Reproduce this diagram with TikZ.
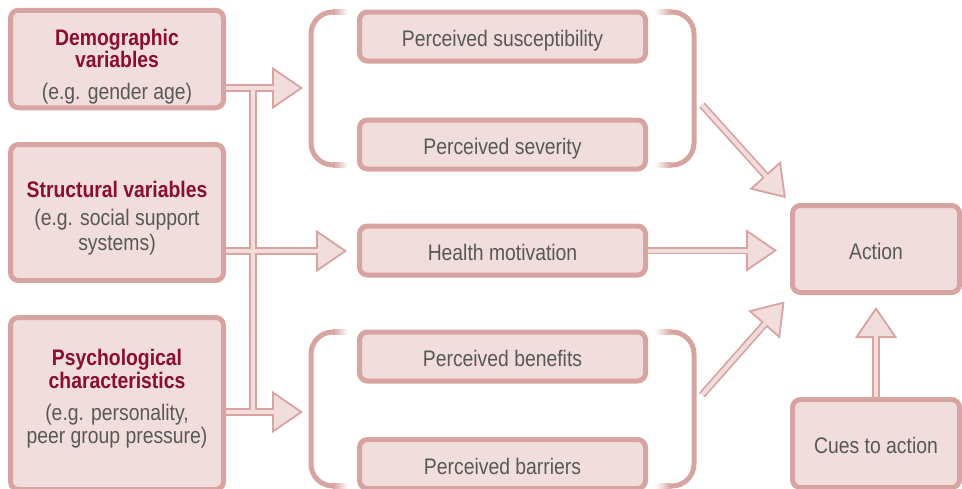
\documentclass[tikz,border=0pt]{standalone}
\usepackage{fontspec}
\setmainfont{Liberation Sans}[FakeStretch=0.86]
\usetikzlibrary{arrows.meta}
\definecolor{edgec}{RGB}{216,164,162}
\definecolor{fillc}{RGB}{241,221,220}
\definecolor{greyc}{RGB}{88,88,88}
\definecolor{redc}{RGB}{139,14,50}
\newcommand{\vname}[1]{\textcolor{redc}{\bfseries #1}}
\begin{document}
\begin{tikzpicture}[x=1pt, y=-1pt,
  font=\fontsize{22.5}{20}\selectfont,
  box/.style={draw=edgec, fill=fillc, line width=5pt, rounded corners=8pt, inner sep=0pt, outer sep=0pt, text=greyc},
  factor/.style={box, minimum width=286pt, minimum height=49pt, text height=20pt, text depth=0pt},
  actbox/.style={box, minimum width=167pt, text height=20pt, text depth=0pt},
  varbox/.style={box, minimum width=213pt},
  vartext/.style={anchor=north, align=center, inner sep=0pt, text=greyc},
  pipe/.style={draw=edgec, line width=7.5pt},
  core/.style={draw=fillc, line width=4pt},
  bigtip/.style={-{Triangle[width=42pt, length=31pt, fill=fillc, line width=1.8pt]}},
  brk/.style={draw=edgec, line width=5pt, rounded corners=22pt}]
\useasboundingbox (0,0) rectangle (962,488);

% brackets round the paired factors
\foreach \y/\z in {12/165, 332/486} {
  \draw[brk] (334,\y) -- (311,\y) -- (311,\z) -- (334,\z);
  \draw[brk] (670,\y) -- (694,\y) -- (694,\z) -- (670,\z);
  \foreach \v in {\y, \z} {
    \shade[left color=edgec, right color=white] (333,\v-2.5) rectangle (348,\v+2.5);
    \shade[left color=white, right color=edgec] (655,\v-2.5) rectangle (671,\v+2.5);
  }
}

\node[varbox, minimum height=97.5pt] (demo) at (117,59) {};
\node[varbox, minimum height=136pt] (struct) at (117,212.5) {};
\node[varbox, minimum height=172pt] (psych) at (117,403.5) {};
\node[vartext] (demotxt) at (117,29) {\vname{Demographic}\\\vname{variables}\\[12pt](e.g. gender age)};
\node[vartext] (structtxt) at (117,181) {\vname{Structural variables}\\[8pt](e.g. social support\\[3pt]systems)};
\node[vartext] (psychtxt) at (117,349) {\vname{Psychological}\\[1pt]\vname{characteristics}\\[12pt](e.g. personality,\\[1pt]peer group pressure)};

\foreach \n/\y/\t in {suscep/36.5/Perceived susceptibility, sever/144.5/Perceived severity,
    motiv/250.5/Health motivation, benef/356.5/Perceived benefits, barr/464/Perceived barriers}
  \node[factor] (\n) at (502.5,\y) {\t};

\node[actbox, minimum height=87pt] (action) at (876,249) {Action};
\node[actbox, minimum height=88pt] (cues) at (876,443.5) {Cues to action};

\coordinate (jtop) at (253,88);
\coordinate (jmid) at (253,251);
\coordinate (jbot) at (253,412);
\coordinate (brkin1) at (303,88);
\coordinate (brkin2) at (303,412);
\coordinate (brkout1) at (702,105);
\coordinate (brkout2) at (702,395);

% outlines first, then the pale cores
\draw[pipe] (jtop) -- (jbot);
\foreach \a/\b/\s/\e in {demo.east |- jtop/brkin1/2.5/0, struct.east |- jmid/jmid -| motiv.west/2.5/12.5,
    psych.east |- jbot/brkin2/2.5/0, brkout1/action.north west/0/10, motiv.east/action.west |- motiv.east/2.5/15.5,
    brkout2/action.south west/0/12, cues.north/action.south/2.5/14.5}
  \draw[pipe, bigtip, shorten <=\s pt, shorten >=\e pt] (\a) -- (\b);
\draw[core] (jtop) -- (jbot);
\foreach \a/\b/\s/\e in {demo.east |- jtop/brkin1/2.5/0, struct.east |- jmid/jmid -| motiv.west/2.5/12.5,
    psych.east |- jbot/brkin2/2.5/0, brkout1/action.north west/0/10, motiv.east/action.west |- motiv.east/2.5/15.5,
    brkout2/action.south west/0/12, cues.north/action.south/2.5/14.5}
  \draw[core, shorten <=\s pt, shorten >=\e pt+27pt] (\a) -- (\b);
\end{tikzpicture}
\end{document}
